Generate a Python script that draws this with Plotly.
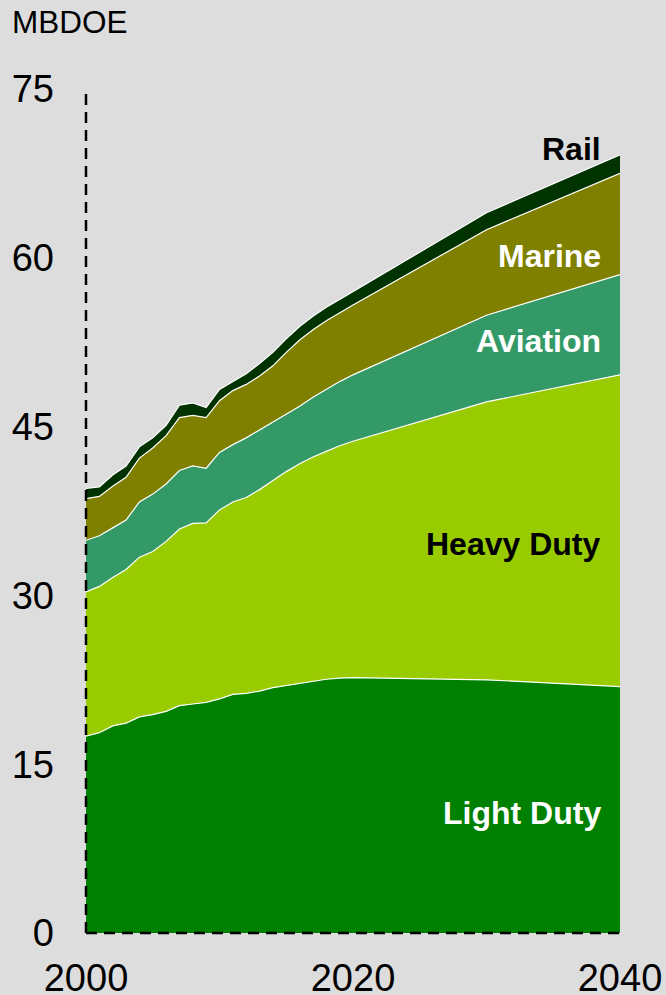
import plotly.graph_objects as go

years = [2000, 2001, 2002, 2003, 2004, 2005, 2006, 2007, 2008, 2009, 2010,
         2011, 2012, 2013, 2014, 2015, 2016, 2017, 2018, 2019, 2020, 2030, 2040]

light_duty = [17.5, 17.8, 18.4, 18.65, 19.2, 19.4, 19.7, 20.2, 20.35, 20.5, 20.8,
              21.2, 21.3, 21.5, 21.8, 22.0, 22.2, 22.4, 22.55, 22.65, 22.7, 22.5, 21.9]
heavy_duty = [12.8, 13.0, 13.2, 13.65, 14.2, 14.5, 15.1, 15.7, 16.05, 15.95, 16.8,
              17.1, 17.4, 17.9, 18.4, 19.0, 19.5, 19.9, 20.25, 20.65, 21.0, 24.7, 27.7]
aviation = [4.6, 4.5, 4.4, 4.4, 4.9, 5.1, 5.1, 5.2, 5.1, 4.85, 5.1,
            5.1, 5.3, 5.3, 5.2, 5.1, 5.1, 5.3, 5.5, 5.7, 5.9, 7.7, 8.9]
marine = [3.7, 3.5, 3.7, 3.8, 3.9, 4.1, 4.3, 4.7, 4.5, 4.5, 4.6,
          4.8, 4.75, 4.8, 5.0, 5.5, 5.9, 6.0, 6.1, 6.1, 6.2, 7.6, 9.0]
rail = [0.9, 0.85, 1.0, 1.0, 1.0, 0.9, 0.9, 1.1, 1.1, 0.9, 1.0,
        0.8, 0.95, 1.1, 1.2, 1.2, 1.2, 1.2, 1.2, 1.2, 1.2, 1.5, 1.65]

series = [
    ("Light Duty", light_duty, "#008000"),
    ("Heavy Duty", heavy_duty, "#99cc00"),
    ("Aviation", aviation, "#339966"),
    ("Marine", marine, "#808000"),
    ("Rail", rail, "#003300"),
]

y_ticks = [0, 15, 30, 45, 60, 75]
x_ticks = [2000, 2020, 2040]

# label name, y position (data units), text colour
labels = [
    ("Rail", 69.7, "#000000"),
    ("Marine", 60.2, "#ffffff"),
    ("Aviation", 52.6, "#ffffff"),
    ("Heavy Duty", 34.6, "#000000"),
    ("Light Duty", 10.7, "#ffffff"),
]

FONT = "Arial, Liberation Sans, sans-serif"
BG = "#dddddd"

fig = go.Figure()
for name, vals, col in series:
    fig.add_trace(go.Scatter(
        x=years, y=vals, name=name, mode="lines", stackgroup="one",
        line=dict(color="white", width=1.2), fillcolor=col,
        hoverinfo="skip", showlegend=False,
    ))

for text, yv, col in labels:
    fig.add_annotation(
        x=2040, y=yv, xref="x", yref="y", text="<b>%s</b>" % text,
        showarrow=False, xanchor="right", yanchor="middle", xshift=-17,
        font=dict(family=FONT, size=32, color=col),
    )

fig.add_annotation(
    x=-0.143, y=1.079, xref="paper", yref="paper", text="MBDOE",
    showarrow=False, xanchor="left", yanchor="middle",
    font=dict(family=FONT, size=31.5, color="#000000"),
)

dash = "11px,7px"
fig.add_shape(type="line", xref="paper", yref="paper", x0=0, x1=0, y0=0, y1=1,
              line=dict(color="black", width=2.5, dash=dash), layer="above")
fig.add_shape(type="line", xref="paper", yref="paper", x0=0, x1=1, y0=0, y1=0,
              line=dict(color="black", width=2.5, dash=dash), layer="above")

fig.update_layout(
    width=666, height=995,
    margin=dict(l=86, r=46, t=89, b=62, autoexpand=False),
    paper_bgcolor=BG, plot_bgcolor=BG,
    font=dict(family=FONT, color="black"),
    showlegend=False,
    xaxis=dict(range=[2000, 2040], tickvals=x_ticks, showgrid=False, zeroline=False,
               showline=False, ticks="", tickfont=dict(size=38), automargin=False,
               ticklabelstandoff=19, fixedrange=True),
    yaxis=dict(range=[0, 75], tickvals=y_ticks, showgrid=False, zeroline=False,
               showline=False, ticks="", tickfont=dict(size=38), automargin=False,
               ticklabelstandoff=31, fixedrange=True),
)

fig.write_html(
    "out.html",
    config={"displayModeBar": False},
    post_script="document.body.style.margin='0';document.body.style.background='#dddddd';",
)
